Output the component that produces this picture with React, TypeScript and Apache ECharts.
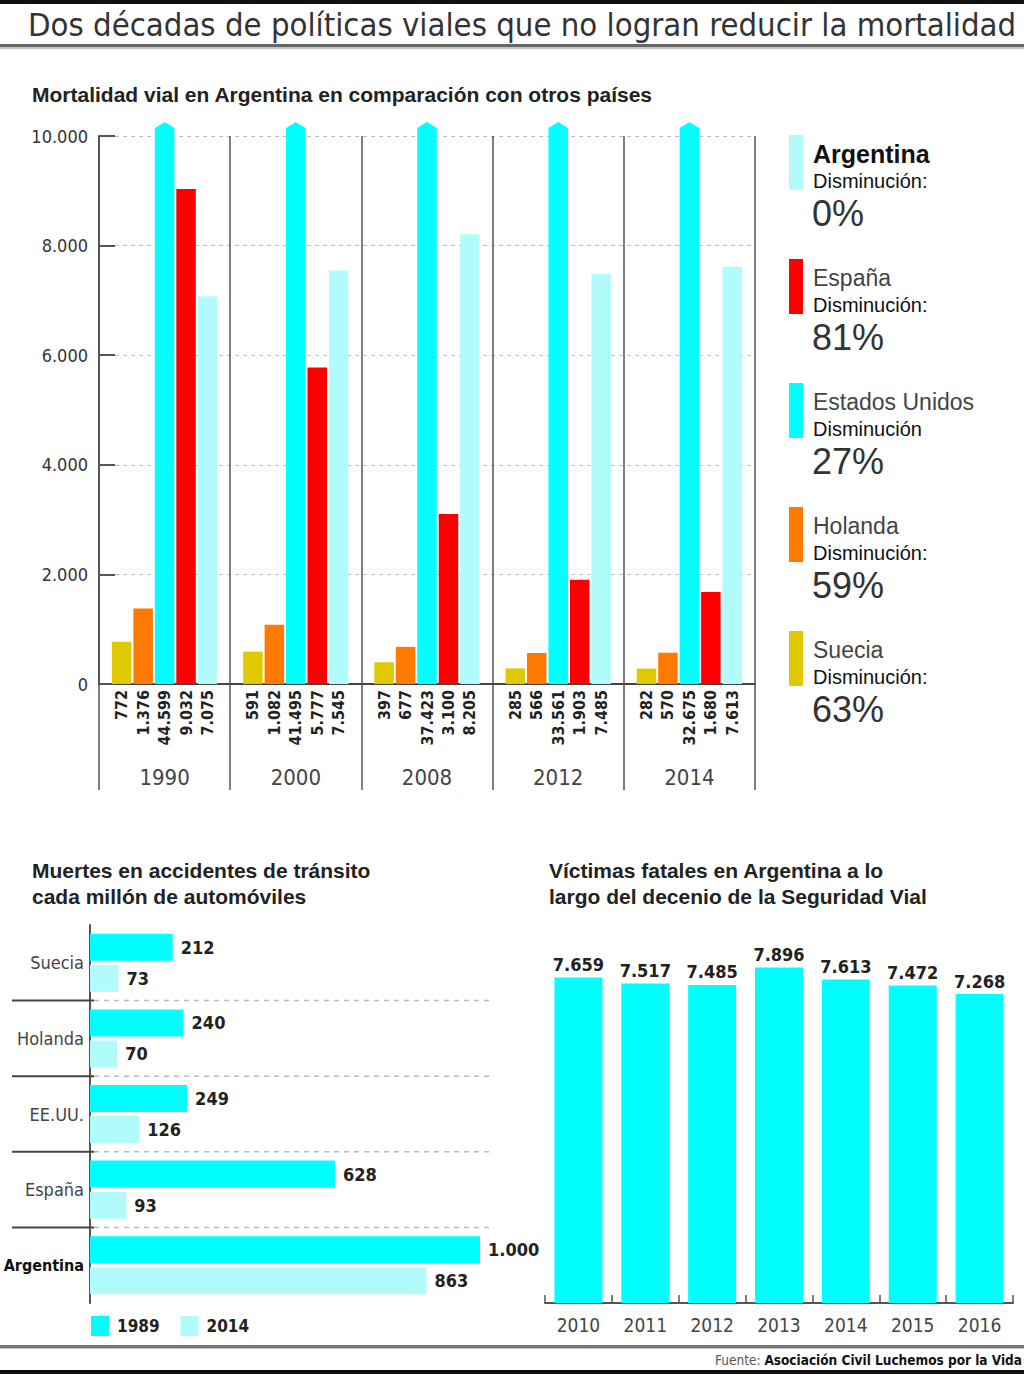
import React, { useEffect, useRef } from 'react';
import * as echarts from 'echarts';

// ---------- data ----------
const years = ['1990', '2000', '2008', '2012', '2014'];
const suecia = [772, 591, 397, 285, 282];
const holanda = [1376, 1082, 677, 566, 570];
const eeuu = [44599, 41495, 37423, 33561, 32675];
const espana = [9032, 5777, 3100, 1903, 1680];
const argentina = [7075, 7545, 8205, 7485, 7613];
const topMax = 10000;
const topInterval = 2000;

const legendNames = ['Argentina', 'España', 'Estados Unidos', 'Holanda', 'Suecia'];
const legendSubs = ['Disminución:', 'Disminución:', 'Disminución', 'Disminución:', 'Disminución:'];
const legendPcts = ['0%', '81%', '27%', '59%', '63%'];

const countries = ['Suecia', 'Holanda', 'EE.UU.', 'España', 'Argentina'];
const rate1989 = [212, 240, 249, 628, 1000];
const rate2014 = [73, 70, 126, 93, 863];
const rateMax = 1000;

const decadeYears = ['2010', '2011', '2012', '2013', '2014', '2015', '2016'];
const victims = [7659, 7517, 7485, 7896, 7613, 7472, 7268];
const victimsMax = 8000;

// ---------- styles ----------
const NARROW = "'DejaVu Sans Condensed', 'Liberation Sans Narrow', sans-serif";
const SANS = "'Liberation Sans', Arial, Helvetica, sans-serif";
const C_ARG = '#b2fbfb';
const C_ESP = '#ff0000';
const C_US = '#00ffff';
const C_HOL = '#ff7a00';
const C_SUE = '#e0c900';
const legendColors = [C_ARG, C_ESP, C_US, C_HOL, C_SUE];

const fmt = (v: number) => String(v).replace(/\B(?=(\d{3})+(?!\d))/g, '.');

const topLabel = {
  show: true,
  position: 'bottom',
  distance: 6,
  rotate: 90,
  align: 'right',
  verticalAlign: 'middle',
  fontFamily: NARROW,
  fontWeight: 'bold',
  fontSize: 16,
  color: '#222',
  formatter: (p: any) => fmt(p.value),
};

function topBar(name: string, data: number[], color: string, extra: any = {}) {
  return {
    type: 'bar',
    name,
    xAxisIndex: 0,
    yAxisIndex: 0,
    data,
    barWidth: 19.5,
    barGap: '10%',
    itemStyle: { color },
    label: topLabel,
    ...extra,
  };
}

function buildOption() {
  const graphics: any[] = [
    { type: 'rect', shape: { x: 0, y: 0, width: 1024, height: 4 }, style: { fill: '#111' } },
    {
      type: 'text', x: 28, y: 25,
      style: { text: 'Dos décadas de políticas viales que no logran reducir la mortalidad', font: `32.6px ${NARROW}`, fill: '#333', textVerticalAlign: 'middle' },
    },
    { type: 'rect', shape: { x: 0, y: 44, width: 1024, height: 3 }, style: { fill: '#666' } },
    { type: 'rect', shape: { x: 0, y: 47, width: 1024, height: 2 }, style: { fill: '#c4c4c4' } },
    {
      type: 'text', x: 32, y: 94,
      style: { text: 'Mortalidad vial en Argentina en comparación con otros países', font: `bold 21px ${SANS}`, fill: '#222', textVerticalAlign: 'middle' },
    },
    {
      type: 'text', x: 32, y: 870,
      style: { text: 'Muertes en accidentes de tránsito', font: `bold 21px ${SANS}`, fill: '#222', textVerticalAlign: 'middle' },
    },
    {
      type: 'text', x: 32, y: 896,
      style: { text: 'cada millón de automóviles', font: `bold 21px ${SANS}`, fill: '#222', textVerticalAlign: 'middle' },
    },
    {
      type: 'text', x: 549, y: 870,
      style: { text: 'Víctimas fatales en Argentina a lo', font: `bold 21px ${SANS}`, fill: '#222', textVerticalAlign: 'middle' },
    },
    {
      type: 'text', x: 549, y: 896,
      style: { text: 'largo del decenio de la Seguridad Vial', font: `bold 21px ${SANS}`, fill: '#222', textVerticalAlign: 'middle' },
    },
    { type: 'rect', shape: { x: 0, y: 1345, width: 1024, height: 3 }, style: { fill: '#777' } },
    { type: 'rect', shape: { x: 0, y: 1348, width: 1024, height: 1 }, style: { fill: '#c4c4c4' } },
    {
      type: 'text', x: 1022, y: 1360,
      style: {
        text: '{a|Fuente: }{b|Asociación Civil Luchemos por la Vida}',
        textAlign: 'right',
        textVerticalAlign: 'middle',
        rich: {
          a: { fontFamily: NARROW, fontSize: 13.5, fill: '#555' },
          b: { fontFamily: NARROW, fontSize: 13.5, fontWeight: 'bold', fill: '#111' },
        },
      },
    },
    { type: 'rect', shape: { x: 0, y: 1370, width: 1024, height: 4 }, style: { fill: '#111' } },
  ];

  legendNames.forEach((name, i) => {
    const y0 = 135 + i * 124;
    graphics.push({ type: 'rect', shape: { x: 789, y: y0, width: 14, height: 55 }, style: { fill: legendColors[i] } });
    graphics.push({
      type: 'text', x: 813, y: y0 + 19,
      style: {
        text: name,
        font: i === 0 ? `bold 25px ${SANS}` : `23px ${SANS}`,
        fill: i === 0 ? '#111' : '#444',
        textVerticalAlign: 'middle',
      },
    });
    graphics.push({
      type: 'text', x: 813, y: y0 + 46,
      style: { text: legendSubs[i], font: `20px ${SANS}`, fill: '#111', textVerticalAlign: 'middle' },
    });
    graphics.push({
      type: 'text', x: 812, y: y0 + 78,
      style: { text: legendPcts[i], font: `36px ${SANS}`, fill: '#333', textVerticalAlign: 'middle' },
    });
  });

  return {
    animation: false,
    backgroundColor: '#ffffff',
    grid: [
      { left: 99, top: 136, width: 656, height: 548, outerBoundsMode: 'none', containLabel: false },
      { left: 90, top: 925, width: 390, height: 378, outerBoundsMode: 'none', containLabel: false },
      { left: 545, top: 963, width: 468, height: 340, outerBoundsMode: 'none', containLabel: false },
    ],
    legend: {
      data: ['1989', '2014'],
      left: 91,
      top: 1316,
      padding: 0,
      itemWidth: 18,
      itemHeight: 20,
      itemGap: 21,
      icon: 'rect',
      selectedMode: false,
      textStyle: { fontFamily: NARROW, fontWeight: 'bold', fontSize: 17, color: '#222', padding: [0, 0, 0, 3] },
    },
    xAxis: [
      {
        gridIndex: 0,
        type: 'category',
        data: years,
        axisLine: { lineStyle: { color: '#444', width: 2 } },
        axisTick: { show: true, interval: 0, length: 106, lineStyle: { color: '#555', width: 1.5 } },
        splitLine: { show: true, interval: 0, lineStyle: { color: '#555', width: 1.5 } },
        axisLabel: { interval: 0, margin: 82, fontFamily: NARROW, fontSize: 22, color: '#444' },
      },
      {
        gridIndex: 1,
        type: 'value',
        min: 0,
        max: rateMax,
        show: false,
      },
      {
        gridIndex: 2,
        type: 'category',
        data: decadeYears,
        axisLine: { lineStyle: { color: '#555', width: 2 } },
        axisTick: { show: true, inside: true, interval: 0, length: 8, lineStyle: { color: '#555', width: 1.5 } },
        axisLabel: { interval: 0, margin: 12, fontFamily: NARROW, fontSize: 19, color: '#444' },
      },
    ],
    yAxis: [
      {
        gridIndex: 0,
        type: 'value',
        min: 0,
        max: topMax,
        interval: topInterval,
        axisLine: { show: true, lineStyle: { color: '#555', width: 2 } },
        axisTick: { show: true, inside: true, length: 16, lineStyle: { color: '#555', width: 2 } },
        splitLine: { show: true, lineStyle: { color: '#bdbdbd', type: [4, 4], width: 1.2 } },
        axisLabel: { margin: 11, fontFamily: NARROW, fontSize: 18, color: '#333', formatter: (v: number) => fmt(v) },
      },
      {
        gridIndex: 1,
        type: 'category',
        data: countries,
        inverse: true,
        axisLine: { show: true, lineStyle: { color: '#555', width: 2 } },
        axisTick: { show: false },
        axisLabel: {
          margin: 6,
          formatter: (v: string) => (v === 'Argentina' ? `{b|${v}}` : `{n|${v}}`),
          rich: {
            n: { fontFamily: NARROW, fontSize: 18, color: '#444' },
            b: { fontFamily: NARROW, fontSize: 16, fontWeight: 'bold', color: '#111' },
          },
        },
      },
      {
        gridIndex: 2,
        type: 'value',
        min: 0,
        max: victimsMax,
        show: false,
        splitLine: { show: false },
      },
    ],
    graphic: graphics,
    series: [
      topBar('Suecia', suecia, C_SUE),
      topBar('Holanda', holanda, C_HOL),
      topBar('Estados Unidos', eeuu, C_US, {
        markPoint: {
          silent: true,
          symbol: 'path://M0,14 L0,6 L10,0 L20,6 L20,14 Z',
          symbolSize: [19.5, 14],
          symbolOffset: [0, -7],
          itemStyle: { color: C_US },
          label: { show: false },
          data: years.map((y) => ({ coord: [y, topMax] })),
        },
      }),
      topBar('España', espana, C_ESP),
      topBar('Argentina', argentina, C_ARG),
      {
        type: 'custom',
        xAxisIndex: 1,
        yAxisIndex: 1,
        silent: true,
        z: 1,
        data: countries.slice(1).map((c) => [0, c]),
        renderItem: (params: any, api: any) => {
          const idx = api.value(1);
          const c = api.coord([0, idx]);
          const half = api.size([0, 1])[1] / 2;
          const y = c[1] - half;
          const cs = params.coordSys;
          return {
            type: 'group',
            children: [
              { type: 'line', shape: { x1: 12, y1: y, x2: c[0] + 4, y2: y }, style: { stroke: '#444', lineWidth: 2 } },
              { type: 'line', shape: { x1: c[0] + 4, y1: y, x2: cs.x + cs.width + 14, y2: y }, style: { stroke: '#bbb', lineWidth: 1.5, lineDash: [5, 5] } },
            ],
          };
        },
      },
      {
        type: 'bar',
        name: '1989',
        xAxisIndex: 1,
        yAxisIndex: 1,
        data: rate1989,
        barWidth: 27,
        barGap: '15%',
        itemStyle: { color: C_US },
        label: { show: true, position: 'right', distance: 8, fontFamily: NARROW, fontWeight: 'bold', fontSize: 18, color: '#222', formatter: (p: any) => fmt(p.value) },
      },
      {
        type: 'bar',
        name: '2014',
        xAxisIndex: 1,
        yAxisIndex: 1,
        data: rate2014,
        barWidth: 27,
        barGap: '15%',
        itemStyle: { color: C_ARG },
        label: { show: true, position: 'right', distance: 8, fontFamily: NARROW, fontWeight: 'bold', fontSize: 18, color: '#222', formatter: (p: any) => fmt(p.value) },
      },
      {
        type: 'bar',
        name: 'Víctimas fatales',
        xAxisIndex: 2,
        yAxisIndex: 2,
        data: victims,
        barWidth: 48,
        itemStyle: { color: C_US },
        label: { show: true, position: 'top', distance: 4, fontFamily: NARROW, fontWeight: 'bold', fontSize: 18, color: '#222', formatter: (p: any) => fmt(p.value) },
      },
    ],
  };
}

export default function App() {
  const ref = useRef<HTMLDivElement>(null);
  useEffect(() => {
    const chart = echarts.init(ref.current as HTMLDivElement, null, { renderer: 'svg' });
    chart.setOption(buildOption() as any);
    return () => chart.dispose();
  }, []);
  return (
    <div
      ref={ref}
      style={{ position: 'absolute', left: 0, top: 0, width: 1024, height: 1374, background: '#fff' }}
    />
  );
}
